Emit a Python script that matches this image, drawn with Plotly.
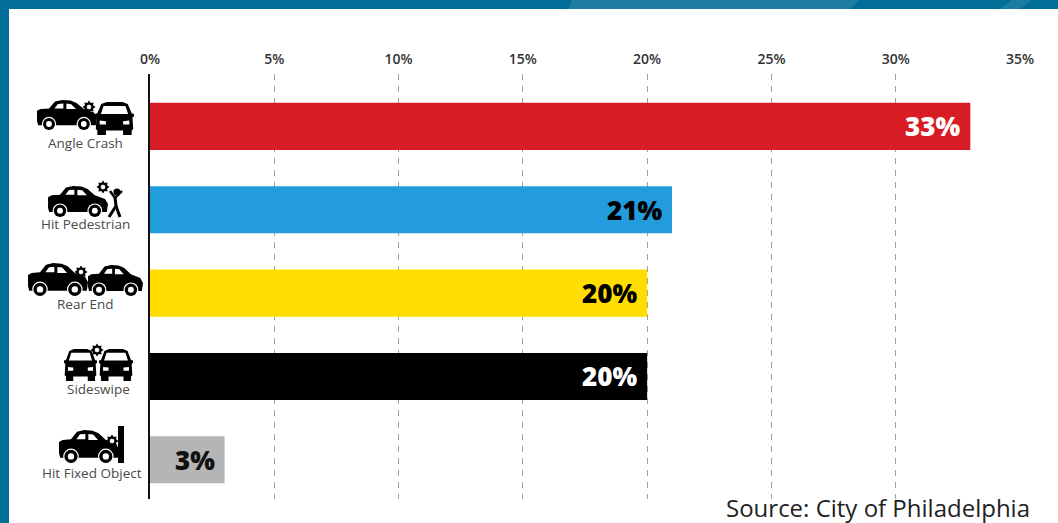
import math
import plotly.graph_objects as go

# Crash types and their share of crashes
categories = ["Angle Crash", "Hit Pedestrian", "Rear End", "Sideswipe", "Hit Fixed Object"]
shares = [33, 21, 20, 20, 3]
bar_colors = ["#d71c23", "#229cdc", "#ffdd00", "#000000", "#b5b5b5"]
value_label_colors = ["#ffffff", "#000000", "#000000", "#ffffff", "#111111"]
percent_ticks = [0, 5, 10, 15, 20, 25, 30, 35]
source_note = "Source: City of Philadelphia"

WIDTH, HEIGHT = 1058, 523
LEFT, RIGHT, TOP, BOTTOM = 150, 1020, 74, 499


def px(x):
    return (x - LEFT) / (RIGHT - LEFT)


def py(y):
    return (BOTTOM - y) / (BOTTOM - TOP)


shapes = []


def polygon(points, fill="#000000", layer="above"):
    path = "M" + " L".join(f"{px(x):.5f},{py(y):.5f}" for x, y in points) + " Z"
    shapes.append(dict(type="path", xref="paper", yref="paper", path=path,
                       fillcolor=fill, line=dict(width=0), layer=layer))


def disc(cx, cy, r, fill="#000000"):
    shapes.append(dict(type="circle", xref="paper", yref="paper",
                       x0=px(cx - r), x1=px(cx + r), y0=py(cy + r), y1=py(cy - r),
                       fillcolor=fill, line=dict(width=0)))


def stroke(points, width=3):
    path = "M" + " L".join(f"{px(x):.5f},{py(y):.5f}" for x, y in points)
    shapes.append(dict(type="path", xref="paper", yref="paper", path=path,
                       line=dict(color="#000000", width=width)))


def side_car(x, y, w, h):
    """Sedan seen from the side, nose to the right."""
    def pt(u, v):
        return (x + u * w, y + v * h)

    polygon([pt(*p) for p in [(0.0, 0.36), (0.06, 0.3), (0.2, 0.28), (0.3, 0.05),
                              (0.42, 0.0), (0.56, 0.02), (0.66, 0.1), (0.78, 0.3),
                              (0.95, 0.42), (1.0, 0.58), (0.98, 0.84), (0.02, 0.84), (0.0, 0.7)]])
    polygon([pt(*p) for p in [(0.29, 0.28), (0.35, 0.13), (0.44, 0.12), (0.44, 0.28)]], "#ffffff")
    polygon([pt(*p) for p in [(0.49, 0.12), (0.57, 0.14), (0.65, 0.3), (0.49, 0.3)]], "#ffffff")
    radius = h * 0.2
    for u in (0.2, 0.78):
        cx, cy = pt(u, 0.8)
        disc(cx, cy, radius + 1.2, "#ffffff")
        disc(cx, cy, radius, "#000000")
        disc(cx, cy, radius * 0.48, "#ffffff")


def front_car(x, y, w, h):
    """Car seen from the front."""
    def pt(u, v):
        return (x + u * w, y + v * h)

    polygon([pt(*p) for p in [(0.16, 0.06), (0.3, 0.0), (0.7, 0.0), (0.84, 0.06), (0.94, 0.34),
                              (1.0, 0.36), (1.0, 0.44), (0.96, 0.46), (0.98, 0.82), (0.94, 0.86),
                              (0.94, 1.0), (0.72, 1.0), (0.72, 0.86), (0.28, 0.86), (0.28, 1.0),
                              (0.06, 1.0), (0.06, 0.86), (0.02, 0.82), (0.04, 0.46), (0.0, 0.44),
                              (0.0, 0.36), (0.06, 0.34)]])
    polygon([pt(*p) for p in [(0.22, 0.12), (0.78, 0.12), (0.85, 0.36), (0.15, 0.36)]], "#ffffff")
    polygon([pt(*p) for p in [(0.12, 0.56), (0.28, 0.58), (0.28, 0.68), (0.12, 0.68)]], "#ffffff")
    polygon([pt(*p) for p in [(0.72, 0.58), (0.88, 0.56), (0.88, 0.68), (0.72, 0.68)]], "#ffffff")


def burst(cx, cy, r):
    """Small impact star with a white heart."""
    outer = []
    inner = []
    for k in range(16):
        angle = math.pi * k / 8
        radius = r if k % 2 == 0 else r * 0.68
        outer.append((cx + radius * math.cos(angle), cy + radius * math.sin(angle)))
        inner.append((cx + radius * 0.42 * math.cos(angle), cy + radius * 0.42 * math.sin(angle)))
    polygon(outer)
    polygon(inner, "#ffffff")


# Frame around the chart, with the lighter sweep along the top edge
polygon([(0, 0), (WIDTH, 0), (WIDTH, 9), (0, 9)], "#006e96", "below")
polygon([(0, 0), (9, 0), (9, HEIGHT), (0, HEIGHT)], "#006e96", "below")
polygon([(568, 9), (572, 0), (860, 0), (850, 9)], "#1c7da0", "below")
polygon([(1000, 9), (1012, 0), (1032, 0), (1020, 9)], "#1c7da0", "below")

# Crash pictograms to the left of each bar
side_car(37, 100, 60, 30)
burst(89, 107, 6.5)
front_car(95, 102, 39, 33)

side_car(48, 186, 60, 31)
burst(103, 187, 6.5)
disc(117, 192, 3.6)
stroke([(115, 197), (116, 206), (109, 217)])
stroke([(116, 206), (120, 217)])
stroke([(115, 198), (110, 191)], 2.4)
stroke([(115, 198), (122, 191)], 2.4)

side_car(28, 263, 60, 33)
side_car(88, 265, 55, 31)
burst(81, 272, 6.5)

front_car(64, 349, 33, 32)
front_car(99, 349, 34, 32)
burst(97, 350, 6.5)

side_car(59, 430, 60, 33)
burst(112, 441, 6.5)
polygon([(118, 426), (124, 426), (124, 463), (118, 463)])

label_centers = [(85, 143), (85, 224), (85, 304), (98, 389), (92, 473)]

fig = go.Figure(go.Bar(
    x=shares, y=categories, orientation="h",
    marker=dict(color=bar_colors, line=dict(width=0)),
    width=0.565, hoverinfo="skip",
))

annotations = []
for name, (cx, cy) in zip(categories, label_centers):
    annotations.append(dict(x=px(cx), y=py(cy), xref="paper", yref="paper", text=name,
                            showarrow=False, xanchor="center", yanchor="middle",
                            font=dict(family="Open Sans", size=13.5, color="#4a4a4a")))

for name, value, color in zip(categories, shares, value_label_colors):
    small = value < 5
    annotations.append(dict(x=value, y=name, xref="x", yref="y", text=f"{value}%",
                            showarrow=False, xanchor="center" if small else "right",
                            xshift=-30 if small else -8, yanchor="middle",
                            font=dict(family="Open Sans", size=26, weight=800, color=color)))

annotations.append(dict(x=px(724), y=py(507), xref="paper", yref="paper", text=source_note,
                        showarrow=False, xanchor="left", yanchor="middle",
                        font=dict(family="Open Sans", size=24, color="#222222")))

fig.update_layout(
    width=WIDTH, height=HEIGHT,
    margin=dict(l=LEFT, r=WIDTH - RIGHT, t=TOP, b=HEIGHT - BOTTOM, pad=0),
    paper_bgcolor="#ffffff", plot_bgcolor="#ffffff",
    showlegend=False, shapes=shapes, annotations=annotations,
    xaxis=dict(range=[0, 35], side="top", tickmode="array", tickvals=percent_ticks,
               ticktext=[f"{t}%" for t in percent_ticks], ticks="outside", ticklen=3,
               tickcolor="#ffffff", showline=False,
               showgrid=True, gridcolor="#a0a0a0", griddash="6px,6px", gridwidth=1,
               zeroline=False,
               tickfont=dict(family="Open Sans", size=14, weight=600, color="#333333")),
    yaxis=dict(type="category", categoryorder="array", categoryarray=categories,
               range=[4.47, -0.628], showticklabels=False, ticks="", showgrid=False,
               zeroline=False, showline=True, linecolor="#111111", linewidth=2),
)

fig.write_html("out.html")
